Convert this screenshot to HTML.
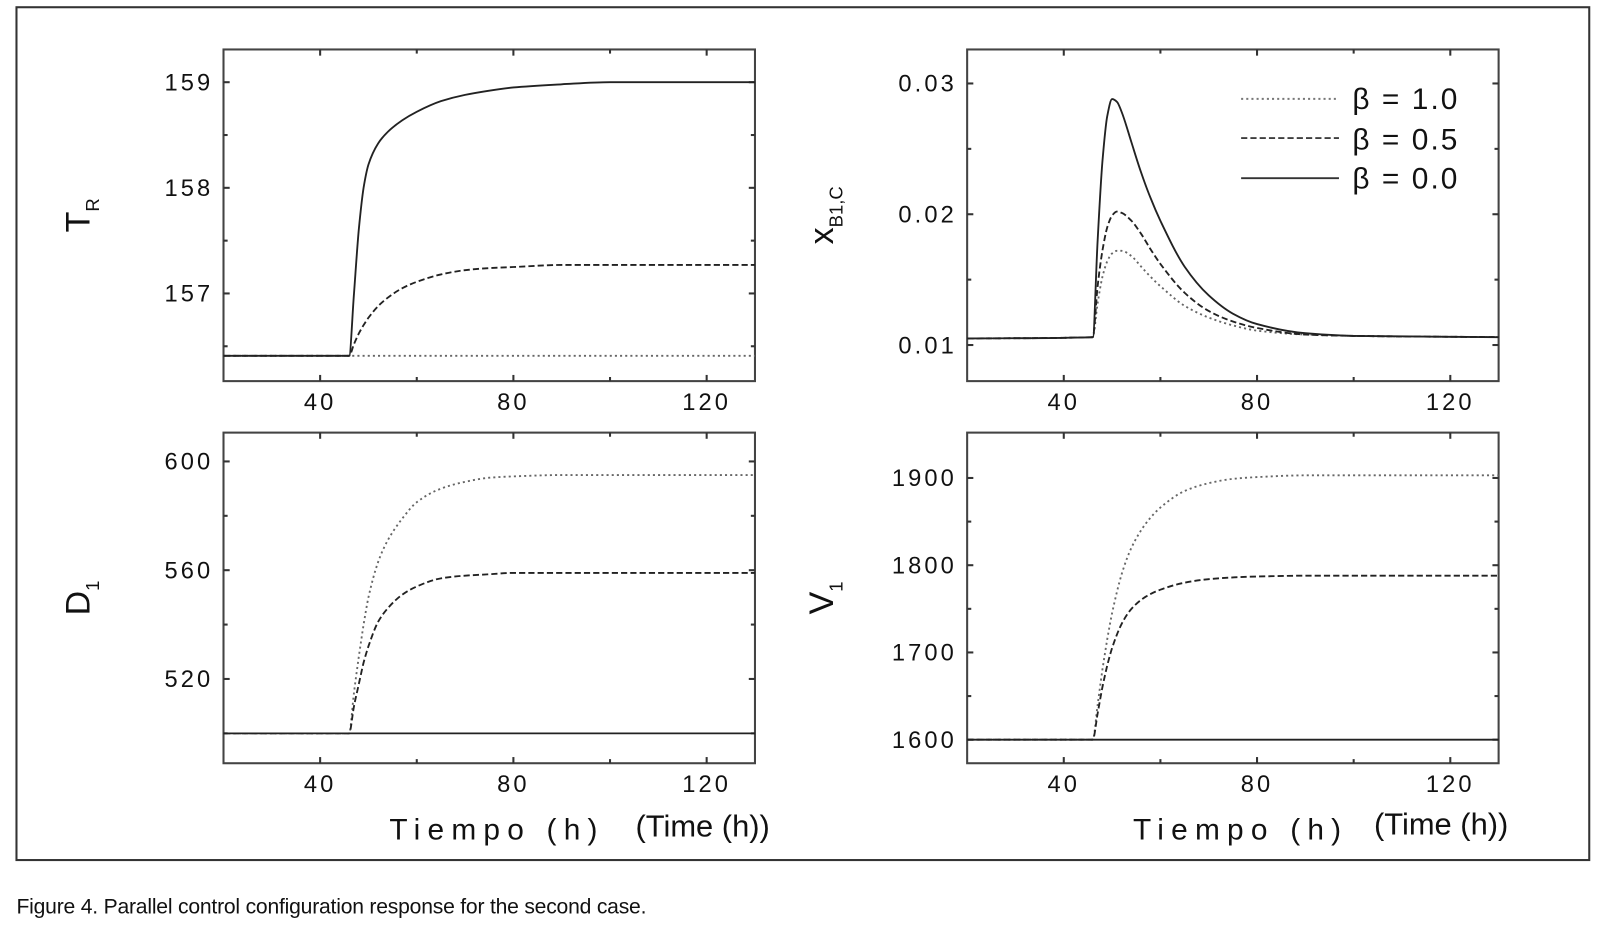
<!DOCTYPE html>
<html><head><meta charset="utf-8">
<style>
html,body{margin:0;padding:0;background:#fff;}
body{width:1615px;height:926px;overflow:hidden;font-family:"Liberation Sans",sans-serif;}
svg text{font-family:"Liberation Sans",sans-serif;}
</style></head>
<body>
<svg id="fig" width="1615" height="926" viewBox="0 0 1568 899" xmlns="http://www.w3.org/2000/svg">
<rect x="16" y="7" width="1527" height="828" fill="#fff" stroke="#333" stroke-width="2"/>
<text x="16" y="887" font-size="20.5" fill="#111" letter-spacing="-0.2">Figure 4. Parallel control configuration response for the second case.</text>
<g>
<text x="378" y="815" font-size="29" letter-spacing="7" fill="#111">Tiempo (h)</text>
<text x="617" y="812" font-size="30" fill="#111" letter-spacing="0">(Time (h))</text>
</g>
<g>
<text x="1100" y="815" font-size="29" letter-spacing="7" fill="#111">Tiempo (h)</text>
<text x="1334" y="810" font-size="30" fill="#111" letter-spacing="0">(Time (h))</text>
</g>
<g>
<line x1="1205" y1="96" x2="1300" y2="96" stroke="#777" stroke-width="2" stroke-dasharray="2,3"/>
<text x="1313" y="106" font-size="29" letter-spacing="2" fill="#111">β = 1.0</text>
<line x1="1205" y1="134" x2="1300" y2="134" stroke="#222" stroke-width="1.6" stroke-dasharray="6,3"/>
<text x="1313" y="145" font-size="29" letter-spacing="2" fill="#111">β = 0.5</text>
<line x1="1205" y1="173" x2="1300" y2="173" stroke="#333" stroke-width="1.8"/>
<text x="1313" y="183" font-size="29" letter-spacing="2" fill="#111">β = 0.0</text>
</g>
</svg>
<script>
// time grids
const tGrid = [20,46,47,48,49,50,52,54,57,60,65,70,75,80,90,100,130];
const tXb = [20,46,47,48,49,50,51,52,54,56,58,60,65,70,75,80,90,100,130];
const xTicks = [40,80,120];
const xMinor = [60,100];
// T_R
const trSolid  = [156.41,156.41,157.0,157.6,158.0,158.22,158.42,158.53,158.64,158.72,158.82,158.88,158.92,158.95,158.98,159.0,159.0];
const trDashed = [156.41,156.41,156.52,156.62,156.7,156.77,156.88,156.96,157.05,157.11,157.18,157.22,157.24,157.25,157.27,157.27,157.27];
const trDotted = [156.41,156.41,156.41,156.41,156.41,156.41,156.41,156.41,156.41,156.41,156.41,156.41,156.41,156.41,156.41,156.41,156.41];
const trTicks = [157,158,159];
const trLabels = ["157","158","159"];
// x_B1,C
const xbSolid  = [0.0105,0.0106,0.018,0.024,0.0275,0.0288,0.0286,0.0278,0.0255,0.0232,0.0212,0.0195,0.0160,0.0138,0.0124,0.0116,0.0109,0.0107,0.0106];
const xbDashed = [0.0105,0.0106,0.0145,0.0172,0.0190,0.0199,0.0202,0.0201,0.0195,0.0185,0.0173,0.0162,0.0140,0.0126,0.0118,0.0113,0.0108,0.0107,0.0106];
const xbDotted = [0.0105,0.0106,0.0132,0.0152,0.0164,0.0170,0.0172,0.0172,0.0168,0.0160,0.0152,0.0145,0.0130,0.0121,0.0115,0.0111,0.0108,0.0107,0.0106];
const xbTicks = [0.01,0.02,0.03];
const xbLabels = ["0.01","0.02","0.03"];
// D1
const dSolid  = [500,500,500,500,500,500,500,500,500,500,500,500,500,500,500,500,500];
const dDashed = [500,500,510,518,526,532,541,546,551,554,557,558,558.5,559,559,559,559];
const dDotted = [500,500,515,528,540,550,563,571,579,585,590,592.5,594,594.5,595,595,595];
const dTicks = [520,560,600];
const dLabels = ["520","560","600"];
// V1
const vSolid  = [1600,1600,1600,1600,1600,1600,1600,1600,1600,1600,1600,1600,1600,1600,1600,1600,1600];
const vDashed = [1600,1600,1630,1660,1685,1705,1733,1750,1764,1772,1780,1784,1786,1787,1788,1788,1788];
const vDotted = [1600,1600,1640,1680,1715,1745,1790,1820,1848,1866,1885,1894,1899,1901,1903,1903,1903];
const vTicks = [1600,1700,1800,1900];
const vLabels = ["1600","1700","1800","1900"];

const NS="http://www.w3.org/2000/svg";
const svg=document.getElementById('fig');
function mk(tag,attrs,parent){const e=document.createElementNS(NS,tag);for(const k in attrs)e.setAttribute(k,attrs[k]);parent.appendChild(e);return e;}
// monotone cubic (Fritsch-Carlson) path, no overshoot
function monoPath(P){
  const n=P.length, dx=[], m=[], t=new Array(n);
  for(let i=0;i<n-1;i++){dx.push(P[i+1][0]-P[i][0]);m.push((P[i+1][1]-P[i][1])/dx[i]);}
  t[0]=m[0]; t[n-1]=m[n-2];
  for(let i=1;i<n-1;i++){
    if(m[i-1]*m[i]<=0) t[i]=0;
    else { const w1=2*dx[i]+dx[i-1], w2=dx[i]+2*dx[i-1]; t[i]=(w1+w2)/(w1/m[i-1]+w2/m[i]); }
  }
  let d='M'+P[0][0].toFixed(1)+','+P[0][1].toFixed(1);
  for(let i=0;i<n-1;i++){
    const h=dx[i]/3;
    d+=` C${(P[i][0]+h).toFixed(1)},${(P[i][1]+t[i]*h).toFixed(1)} ${(P[i+1][0]-h).toFixed(1)},${(P[i+1][1]-t[i+1]*h).toFixed(1)} ${P[i+1][0].toFixed(1)},${P[i+1][1].toFixed(1)}`;
  }
  return d;
}

function panel(name,box,xd,yd,yTicks,yLabels,yMinor,series,ts,ylab){
  const g=mk('g',{},svg);
  
  
  const sx=v=>box.x+(v-xd[0])/(xd[1]-xd[0])*box.w;
  const sy=v=>box.y+box.h-(v-yd[0])/(yd[1]-yd[0])*box.h;
  const frame=mk('rect',{x:box.x,y:box.y,width:box.w,height:box.h,fill:'none',stroke:'#444','stroke-width':2},g);
  
  
  xTicks.concat(xMinor).forEach((v,i)=>{
    const major=i<xTicks.length, L=major?6:4;
    mk('line',{x1:sx(v),x2:sx(v),y1:box.y+box.h,y2:box.y+box.h-L,stroke:'#333','stroke-width':2},g);
    mk('line',{x1:sx(v),x2:sx(v),y1:box.y,y2:box.y+L,stroke:'#333','stroke-width':2},g);
  });
  xTicks.forEach(v=>{
    const t=mk('text',{x:sx(v),y:box.y+box.h+28,'font-size':23,'text-anchor':'middle','letter-spacing':3,fill:'#111'},g);
    
    
    t.textContent=v;
  });
  yTicks.concat(yMinor).forEach((v,i)=>{
    const major=i<yTicks.length, L=major?6:4;
    mk('line',{x1:box.x,x2:box.x+L,y1:sy(v),y2:sy(v),stroke:'#333','stroke-width':2},g);
    mk('line',{x1:box.x+box.w,x2:box.x+box.w-L,y1:sy(v),y2:sy(v),stroke:'#333','stroke-width':2},g);
  });
  yTicks.forEach((v,i)=>{
    const t=mk('text',{x:box.x-10,y:sy(v)+8,'font-size':23,'text-anchor':'end','letter-spacing':3,fill:'#111'},g);
    
    
    t.textContent=yLabels[i];
  });
  const styles={solid:{stroke:'#222',w:1.8,d:''},dashed:{stroke:'#222',w:1.8,d:'6,3'},dotted:{stroke:'#666',w:1.8,d:'2,3'}};
  for(const k in series){
    const vals=series[k], st=styles[k];
    const P=vals.map((v,i)=>[sx(ts[i]),sy(v)]);
    const p=mk('path',{d:monoPath(P),fill:'none',stroke:st.stroke,'stroke-width':st.w,'stroke-dasharray':st.d,'stroke-linejoin':'round'},g);
    
    
  }
  const lx=box.x-130, ly=box.y+box.h/2;
  const lab=mk('text',{x:lx,y:ly,'font-size':33,fill:'#111',transform:`rotate(-90 ${lx} ${ly})`,'text-anchor':'middle'},g);
  
  
  lab.innerHTML=ylab;
}
panel('panel-tr',{x:217,y:48,w:516,h:322},[20,130],[156.17,159.31],trTicks,trLabels,[156.5,157.5,158.5],{dotted:trDotted,dashed:trDashed,solid:trSolid},tGrid,'T<tspan font-size="18" dy="9">R</tspan>');
panel('panel-xb',{x:939,y:48,w:516,h:322},[20,130],[0.00724,0.0326],xbTicks,xbLabels,[0.015,0.025],{dotted:xbDotted,dashed:xbDashed,solid:xbSolid},tXb,'x<tspan font-size="18" dy="9">B1,C</tspan>');
panel('panel-d1',{x:217,y:420,w:516,h:321},[20,130],[489,610.6],dTicks,dLabels,[500,540,580],{dotted:dDotted,dashed:dDashed,solid:dSolid},tGrid,'D<tspan font-size="18" dy="9">1</tspan>');
panel('panel-v1',{x:939,y:420,w:516,h:321},[20,130],[1573,1952],vTicks,vLabels,[1650,1750,1850],{dotted:vDotted,dashed:vDashed,solid:vSolid},tGrid,'V<tspan font-size="18" dy="9">1</tspan>');
</script>
</body></html>
